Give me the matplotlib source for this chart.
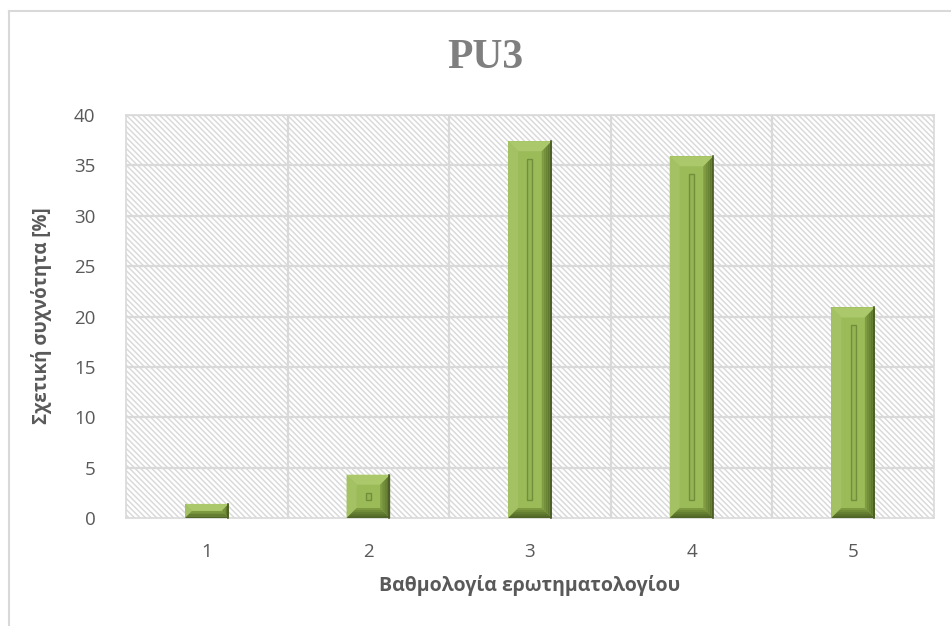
import matplotlib
matplotlib.use("Agg")
import matplotlib.pyplot as plt
from matplotlib.patches import Polygon, Rectangle
from matplotlib.lines import Line2D

# Data
categories = ["1", "2", "3", "4", "5"]
values = [1.4, 4.3, 37.4, 35.9, 20.9]
yticks = [0, 5, 10, 15, 20, 25, 30, 35, 40]
title = "PU3"
xlabel = "Βαθμολογία ερωτηματολογίου"
ylabel = "Σχετική συχνότητα [%]"

TEXT = "#595959"
GRID = "#d9d9d9"
FACE = "#9bbb59"

plt.rcParams["font.family"] = ["Open Sans", "DejaVu Sans"]
plt.rcParams["hatch.linewidth"] = 1.1

fig = plt.figure(figsize=(9.51, 6.26), dpi=100)
ax = fig.add_axes([0.1325, 0.1725, 0.8495, 0.6438])

x = list(range(1, len(categories) + 1))
ax.set_xlim(0.5, len(categories) + 0.5)
ax.set_ylim(0, 40)

# hatched plot-area background
ax.add_patch(Rectangle((0, 0), 1, 1, transform=ax.transAxes, facecolor="white",
                       edgecolor="#dadada", lw=0, hatch="\\" * 6, zorder=0))

# gridlines
for t in yticks[1:]:
    ax.axhline(t, color=GRID, lw=1.6, zorder=1)
for b in [i + 0.5 for i in x[:-1]]:
    ax.axvline(b, color=GRID, lw=1.6, zorder=1)

for s in ax.spines.values():
    s.set_color(GRID)
    s.set_linewidth(1.2)

bars = ax.bar(x, values, width=0.27, color=FACE, edgecolor="none", zorder=2)

ax.set_yticks(yticks)
ax.set_xticks(x)
ax.set_xticklabels(categories)
ax.tick_params(axis="both", length=0, labelsize=13.5, colors=TEXT)
ax.tick_params(axis="y", pad=22)
ax.tick_params(axis="x", pad=18)

fig.canvas.draw()

# bevelled look for each bar, built in display space from the bar geometry
ident = matplotlib.transforms.IdentityTransform()


def poly(pts, c, z=3):
    fig.patches.append(Polygon(pts, closed=True, facecolor=c, edgecolor="none",
                               transform=ident, figure=fig, zorder=z))


for bar in bars:
    x0, y0 = ax.transData.transform((bar.get_x(), 0))
    x1, y1 = ax.transData.transform((bar.get_x() + bar.get_width(), bar.get_height()))
    w, h = x1 - x0, y1 - y0
    b = min(10.0, w / 2 - 1, h / 2)
    ix0, ix1, iy0, iy1 = x0 + b, x1 - b, y0 + b, y1 - b
    poly([(x0, y1), (x1, y1), (ix1, iy1), (ix0, iy1)], "#abc96b")   # top
    poly([(x0, y0), (x0, y1), (ix0, iy1), (ix0, iy0)], "#a4c263")   # left
    # right bevel shaded in strips, darkening outward
    steps = ["#7f9c42", "#748f3b", "#6a8435", "#60792f", "#566e2a"]
    n = len(steps)
    for k, c in enumerate(steps):
        fa, fb = k / n, (k + 1) / n
        poly([(ix1 + b * fa, iy0 - b * fa), (ix1 + b * fb, iy0 - b * fb),
              (ix1 + b * fb, iy1 + b * fb), (ix1 + b * fa, iy1 + b * fa)], c)
    # bottom bevel shaded in strips, darkening downward
    bsteps = ["#7d9a40", "#708c39", "#647e32", "#5a722c", "#506627"]
    for k, c in enumerate(bsteps):
        fa, fb = k / n, (k + 1) / n
        poly([(ix0 - b * fa, iy0 - b * fa), (ix1 + b * fa, iy0 - b * fa),
              (ix1 + b * fb, iy0 - b * fb), (ix0 - b * fb, iy0 - b * fb)], c)
    fig.lines.append(Line2D([x1 - 0.8, x1 - 0.8], [y0, y1], color="#4a5d25", lw=1.2,
                            transform=ident, figure=fig, zorder=4))
    # thin inner groove
    g = 18.0
    if h > 2 * g + 2:
        cx = (x0 + x1) / 2
        fig.patches.append(Rectangle((cx - 2.5, y0 + g), 5, h - 2 * g, facecolor="#95b454",
                                     edgecolor="#718e3b", lw=1.0, transform=ident,
                                     figure=fig, zorder=4))
    elif h > 30:
        cx, cy = (x0 + x1) / 2, (y0 + y1) / 2
        fig.patches.append(Rectangle((cx - 3, cy - 3), 6, 6, facecolor="#95b454",
                                     edgecolor="#66803a", lw=1.0, transform=ident,
                                     figure=fig, zorder=4))

fig.text(0.51, 0.907, title, ha="center", va="center", fontsize=30, fontweight="bold",
         color="#7f7f7f", family=["Liberation Serif", "DejaVu Serif"])
fig.text(0.557, 0.064, xlabel, ha="center", va="center", fontsize=14,
         fontweight="bold", color=TEXT)
fig.text(0.044, 0.495, ylabel, ha="center", va="center", rotation=90, fontsize=13.5,
         fontweight="bold", color=TEXT)

# chart-area frame (top and left edges fall inside the image)
fig.lines.append(Line2D([8.5 / 951, 1.05], [1 - 11 / 626, 1 - 11 / 626], color=GRID, lw=1.5,
                        transform=fig.transFigure, figure=fig))
fig.lines.append(Line2D([8.5 / 951, 8.5 / 951], [-0.05, 1 - 11 / 626], color=GRID, lw=1.5,
                        transform=fig.transFigure, figure=fig))

fig.savefig("out.png", dpi=100)
